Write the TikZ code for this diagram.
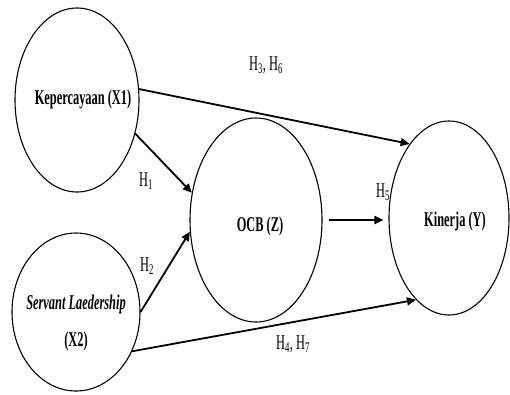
\documentclass[tikz,border=0pt]{standalone}
\usepackage{fontspec}
\setmainfont[FakeStretch=0.59]{Liberation Serif}
\usetikzlibrary{shapes.geometric,arrows.meta}
\begin{document}
\begin{tikzpicture}[x=1pt,y=-1pt,
  var/.style={ellipse,draw,line width=1.1pt,inner sep=0pt},
  arr/.style={line width=1.8pt,-{Triangle[length=9pt,width=8pt]}},
  lab/.style={font=\fontsize{21}{23}\selectfont,inner sep=0pt},
  vlab/.style={font=\fontsize{21}{37}\selectfont\bfseries,inner sep=0pt,align=center}]
\useasboundingbox (0,0) rectangle (510,394);
\node[var,minimum width=124pt,minimum height=184pt] (x1) at (77,100) {};
\node[var,minimum width=128pt,minimum height=158pt] (x2) at (76,312) {};
\node[var,minimum width=132pt,minimum height=204pt] (z) at (256,220) {};
\node[var,minimum width=120pt,minimum height=194pt] (y) at (449,218) {};
\node[vlab] (tx1) at (83,99) {Kepercayaan (X1)};
\node[vlab] (tx2) at (76,323) {\textit{Servant Laedership}\\(X2)};
\node[vlab] (tz) at (260,226) {OCB (Z)};
\node[vlab] (ty) at (455,221) {Kinerja (Y)};
\draw[arr] (x1.10) -- (y.118);
\draw[arr] (x1.-30) -- (z.157);
\draw[arr] (x2.0) -- (z.190);
\draw[arr] (x2.-35) -- (y.-112);
\draw[arr,shorten <=6pt,shorten >=5pt] (z.east) -- (z.east -| y.west);
\node[lab] (h36) at (266,65) {H\textsubscript{3}, H\textsubscript{6}};
\node[lab] (h1) at (146,181) {H\textsubscript{1}};
\node[lab] (h2) at (147,266) {H\textsubscript{2}};
\node[lab] (h5) at (383,192) {H\textsubscript{5}};
\node[lab] (h47) at (293,344) {H\textsubscript{4}, H\textsubscript{7}};
\end{tikzpicture}
\end{document}
